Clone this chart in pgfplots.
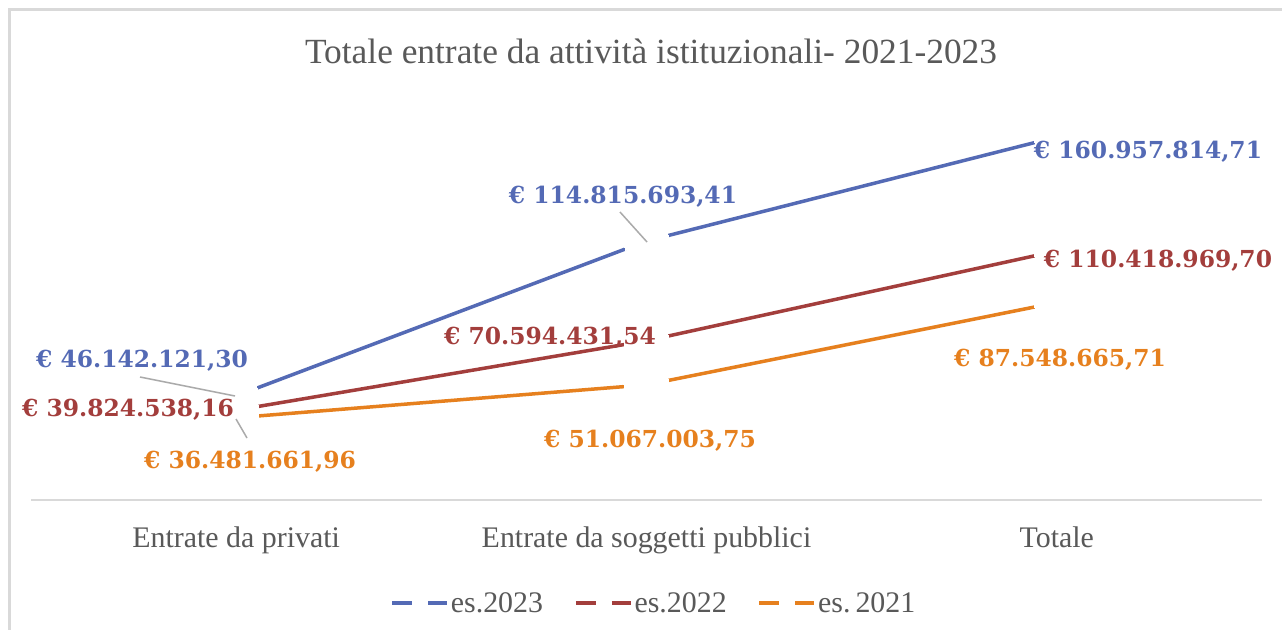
\documentclass[border=0pt]{standalone}
\usepackage{fontspec}
\setmainfont{Liberation Serif}
\newfontfamily\labfont{DejaVu Serif}
\usepackage{pgfplots}
\pgfplotsset{compat=1.18}
\definecolor{c23}{RGB}{84,106,181}
\definecolor{c22}{RGB}{163,62,60}
\definecolor{c21}{RGB}{230,128,30}
\definecolor{txt}{RGB}{89,89,89}
\definecolor{frm}{RGB}{217,217,217}
\definecolor{lead}{RGB}{170,170,170}
\begin{document}
\begin{tikzpicture}
\path[use as bounding box] (0bp,0bp) rectangle (1282bp,-630bp);
\fill[white] (0bp,0bp) rectangle (1282bp,-630bp);
\draw[frm, line width=3bp] (9.5bp,-630bp) -- (9.5bp,-9.5bp) -- (1282bp,-9.5bp);
\begin{axis}[
  at={(31bp,-500bp)}, anchor=south west,
  width=1231bp, height=406bp, scale only axis,
  xmin=-0.5, xmax=2.5, ymin=0, ymax=180000000,
  axis x line*=bottom, axis y line=none,
  x axis line style={frm, line width=2.5bp, -},
  xtick={0,1,2},
  xticklabels={Entrate da privati, Entrate da soggetti pubblici, Totale},
  major tick length=0pt,
  xticklabel style={font=\fontsize{30}{36}\selectfont, text=txt, anchor=base, yshift=-47.5bp},
  clip=false,
  legend columns=3,
  legend style={draw=none, fill=none, at={(0.506,-0.2537)}, anchor=center,
    inner sep=0pt, column sep=0pt,
    font=\fontsize{30}{36}\selectfont, text=txt,
    nodes={inner sep=2bp},
    /tikz/every even column/.append style={column sep=29bp}},
  legend image code/.code={\draw[#1, line width=3.5bp, dash pattern=on 20bp off 16bp] (0bp,0bp) -- (55bp,0bp);},
  gapmark/.style={mark=*, mark size=22.5bp, mark options={solid, fill=white, draw=white, line width=0pt}},
]
\addplot[c23, line width=3.5bp, gapmark, forget plot]
  coordinates {(0,46142121.30) (1,114815693.41) (2,160957814.71)};
\addplot[c22, line width=3.5bp, gapmark, forget plot]
  coordinates {(0,39824538.16) (1,70594431.54) (2,110418969.70)};
\addplot[c21, line width=3.5bp, gapmark, forget plot]
  coordinates {(0,36481661.96) (1,51067003.75) (2,87548665.71)};
\addlegendimage{c23}
\addlegendentry{es.2023}
\addlegendimage{c22}
\addlegendentry{es.2022}
\addlegendimage{c21}
\addlegendentry{es.\,2021}
\end{axis}
\begin{scope}[x=1bp, y=-1bp, lbl/.style={font=\labfont\bfseries\fontsize{23.5}{28}\selectfont, inner sep=0pt, anchor=base}]
\node[font=\fontsize{35.5}{42}\selectfont, text=txt, anchor=base, inner sep=0pt] at (651,63) {Totale entrate da attività istituzionali- 2021-2023};
\draw[lead, line width=1.5bp] (140,377) -- (235,396);
\draw[lead, line width=1.5bp] (236,419) -- (247,438);
\draw[lead, line width=1.5bp] (620,212) -- (647,242);
\node[lbl, text=c23] at (142,367) {€ 46.142.121,30};
\node[lbl, text=c22] at (128,416) {€ 39.824.538,16};
\node[lbl, text=c21] at (250,468) {€ 36.481.661,96};
\node[lbl, text=c23] at (623,203) {€ 114.815.693,41};
\node[lbl, text=c22] at (550,344) {€ 70.594.431,54};
\node[lbl, text=c21] at (650,447) {€ 51.067.003,75};
\node[lbl, text=c23] at (1148,158) {€ 160.957.814,71};
\node[lbl, text=c22] at (1158,267) {€ 110.418.969,70};
\node[lbl, text=c21] at (1060,366) {€ 87.548.665,71};
\end{scope}
\end{tikzpicture}
\end{document}
